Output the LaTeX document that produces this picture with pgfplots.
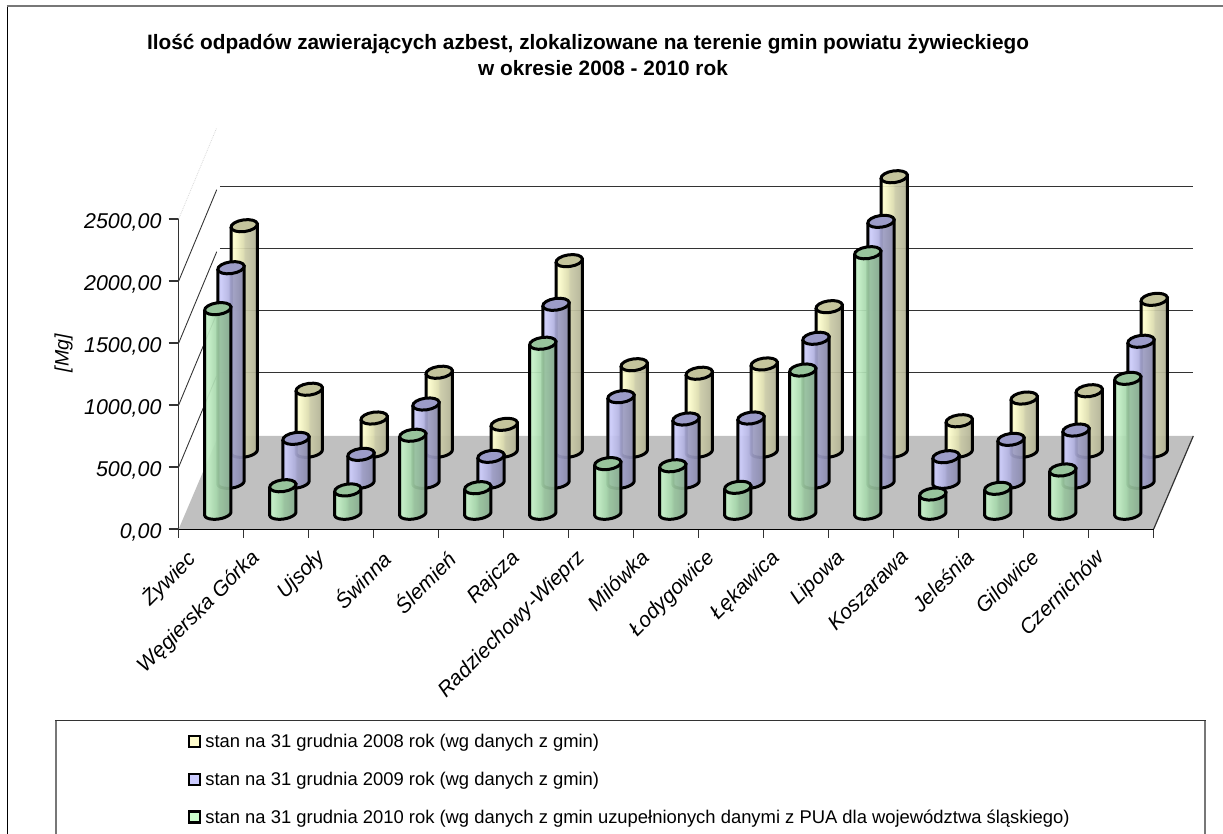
\documentclass[border=0pt]{standalone}
\usepackage{fontspec}
\setmainfont{Liberation Sans}
\usepackage{pgfplots}
\usepackage{pgfplotstable}
\pgfplotsset{compat=1.18}

% Asbestos waste per commune [Mg]: 2008 (Y), 2009 (B), 2010 (G)
\pgfplotstableread{
k  Y     B     G
0  1821  1732  1652
1  502   356   224
2  270   227   190
3  639   633   631
4  219   211   208
5  1539  1437  1373
6  700   692   402
7  631   512   385
8  706   520   211
9  1168  1163  1157
10 2216  2106  2103
11 248   208   157
12 431   348   203
13 490   423   351
14 1227  1139  1090
}\cyldata

\definecolor{gridc}{HTML}{333333}
\definecolor{framec}{HTML}{777777}
\definecolor{floorc}{HTML}{C0C0C0}
\definecolor{capG}{HTML}{98C49C}
\definecolor{capB}{HTML}{9C9CC8}
\definecolor{capY}{HTML}{C4C49C}

% Horizontal shadings giving the cylinder bodies their round look
\pgfdeclarehorizontalshading{cylG}{100bp}{rgb(0bp)=(.69,.88,.71); rgb(25bp)=(.69,.88,.71); rgb(30bp)=(.77,.94,.78); rgb(47bp)=(.65,.84,.67); rgb(52bp)=(.60,.77,.62); rgb(68bp)=(.55,.70,.58); rgb(75bp)=(.52,.66,.55); rgb(100bp)=(.52,.66,.55)}
\pgfdeclarehorizontalshading{cylB}{100bp}{rgb(0bp)=(.72,.72,.90); rgb(25bp)=(.72,.72,.90); rgb(30bp)=(.80,.80,.98); rgb(47bp)=(.69,.69,.87); rgb(52bp)=(.62,.62,.78); rgb(68bp)=(.56,.56,.70); rgb(75bp)=(.53,.53,.66); rgb(100bp)=(.53,.53,.66)}
\pgfdeclarehorizontalshading{cylY}{100bp}{rgb(0bp)=(.90,.90,.73); rgb(25bp)=(.90,.90,.73); rgb(30bp)=(.99,.99,.80); rgb(47bp)=(.87,.87,.69); rgb(52bp)=(.79,.79,.65); rgb(68bp)=(.72,.72,.60); rgb(75bp)=(.68,.68,.57); rgb(100bp)=(.68,.68,.57)}

\tikzset{cylline/.style={draw=black,line width=3pt,line join=round}}

% Cylinder bodies of one series: column, depth in the floor (0..1), shading name
\newcommand\cylbodies[3]{%
  \foreach \k in {0,...,14}{%
    \pgfplotstablegetelem{\k}{#1}\of\cyldata
    \let\val\pgfplotsretval
    \pgfmathsetmacro\cx{\k+0.5+#2*0.6092}%
    \pgfmathsetmacro\cb{#2*750}%
    \pgfmathsetmacro\ct{\cb+\val}%
    \pgfmathsetmacro\lx{\cx-13.17/65}%
    \pgfmathsetmacro\rx{\cx+13.17/65}%
    \pgfmathsetmacro\ly{\ct-1.85/0.124}%
    \pgfmathsetmacro\ry{\ct+1.85/0.124}%
    \def\pts{(\lx,\ly)}%
    \foreach \t in {180,195,...,360}{%
      \pgfmathsetmacro\px{\cx+(13.3*cos(\t)*0.99-5.6*sin(\t)*0.139)/65}%
      \pgfmathsetmacro\py{\cb+(13.3*cos(\t)*0.139+5.6*sin(\t)*0.99)/0.124}%
      \xdef\pts{\pts (\px,\py)}%
    }%
    \edef\cmd{\noexpand\addplot[forget plot,cylline,shade,shading=#3,fill opacity=0.93]
      coordinates {\pts (\rx,\ry)} -- cycle;}%
    \cmd
  }%
}
% Elliptical top faces of one series
\newcommand\cylcaps[3]{%
  \addplot[forget plot,only marks,mark=*,mark size=13.3pt,
    mark options={rotate=8,yscale=0.44,fill=#3,draw=black,line width=3pt}]
    table[x expr=\coordindex+0.5+#2*0.6092,y expr=\thisrow{#1}+#2*750]{\cyldata};
}

\begin{document}
\begin{tikzpicture}[x=1pt,y=1pt]
\path[use as bounding box] (0,0) rectangle (1223,834);
% Chart frame and legend frame, both running off the page
\draw[black,line width=1.8pt] (7.5,-5) -- (7.5,827.5);
\draw[framec,line width=2pt] (6.6,827.5) -- (1230,827.5);
\draw[framec,line width=1.8pt] (56,-5) -- (56,113.3);
\draw[framec,line width=1.8pt] (1205,-5) -- (1205,113.3);
\draw[gridc,line width=1.2pt] (55.2,113.3) -- (1205.8,113.3);
\begin{axis}[
  at={(178.7pt,305pt)},anchor=south west,
  scale only axis,width=975pt,height=310pt,
  clip=false,
  xmin=0,xmax=15,ymin=0,ymax=2500,
  axis lines=left,
  axis line style={-,gridc,line width=1.2pt},
  x axis line style={-,black,line width=1.5pt},
  tick align=outside,
  xtick={0.5,1.5,...,14.5},
  xticklabels={Żywiec,Węgierska Górka,Ujsoły,Świnna,Ślemień,Rajcza,Radziechowy-Wieprz,Milówka,Łodygowice,Łękawica,Lipowa,Koszarawa,Jeleśnia,Gilowice,Czernichów},
  minor xtick={0,1,...,15},
  major x tick style={draw=none},
  minor x tick style={gridc,line width=1.2pt},
  minor tick length=9pt,
  ytick={0,500,...,2500},
  y tick style={gridc,line width=1.2pt},
  major tick length=10pt,
  % shifts act along the rotated text direction
  xticklabel style={rotate=45,anchor=north east,font=\fontsize{21}{21}\selectfont\itshape,inner sep=1pt,xshift=-24pt,yshift=13.5pt},
  yticklabel style={font=\fontsize{21.4}{21.4}\selectfont\itshape,inner sep=2pt,xshift=-5pt,yshift=-3pt,
    /pgf/number format/.cd,fixed,fixed zerofill,precision=2,use comma,1000 sep={},assume math mode=true},
  ylabel={[Mg]},
  ylabel style={at={(axis description cs:-0.118,0.567)},anchor=center,font=\fontsize{19.5}{19.5}\selectfont\itshape},
  title={Ilość odpadów zawierających azbest, zlokalizowane na terenie gmin powiatu żywieckiego\\\hspace*{30pt}w okresie 2008 - 2010 rok},
  title style={at={(axis description cs:0.4198,1.5097)},anchor=center,align=center,font=\fontsize{20.8}{26}\selectfont\bfseries},
  legend style={draw=none,fill=none,at={(axis description cs:0.0095,-0.655)},anchor=north west,
    font=\fontsize{18.4}{18.4}\selectfont,row sep=18.8pt,inner sep=0pt,/tikz/column sep=2pt},
  legend cell align=left,
  legend image code/.code={\draw[#1,line width=2.2pt] (0pt,-5.5pt) rectangle (11pt,5.5pt);},
]
\addlegendimage{draw=black,fill=yellow!20!white}
\addlegendentry{stan na 31 grudnia 2008 rok (wg danych z gmin)}
\addlegendimage{draw=black,fill=blue!20!white}
\addlegendentry{stan na 31 grudnia 2009 rok (wg danych z gmin)}
\addlegendimage{draw=black,fill=green!20!white}
\addlegendentry{stan na 31 grudnia 2010 rok (wg danych z gmin uzupełnionych danymi z PUA dla województwa śląskiego)}

% Floor of the chart
\addplot[forget plot,fill=floorc,draw=none] coordinates {(0,0) (15,0) (15.609,750) (0.609,750)} -- cycle;
\addplot[forget plot,gridc,line width=1.2pt] coordinates {(15,0) (15.609,750)};
% Back wall lines and the matching side wall diagonals
\addplot[forget plot,gridc,line width=1.2pt] coordinates {(0.635,1260) (15.6,1260)};
\addplot[forget plot,gridc,line width=1.2pt] coordinates {(0.635,1760) (15.6,1760)};
\addplot[forget plot,gridc,line width=1.2pt] coordinates {(0.635,2260) (15.6,2260)};
\addplot[forget plot,gridc,line width=1.2pt] coordinates {(0.635,2760) (15.6,2760)};
\addplot[forget plot,gridc,line width=0.9pt] coordinates {(0,500) (0.585,1236)};
\addplot[forget plot,gridc,line width=0.9pt] coordinates {(0,1000) (0.585,1736)};
\addplot[forget plot,gridc,line width=0.9pt] coordinates {(0,1500) (0.585,2236)};
\addplot[forget plot,gridc,line width=0.9pt] coordinates {(0,2000) (0.585,2736)};
\addplot[forget plot,black!15,densely dotted,line width=0.8pt] coordinates {(0,2500) (0.585,3236)};

% Rows of cylinders, rearmost first
\cylbodies{Y}{0.8333}{cylY}
\cylcaps{Y}{0.8333}{capY}
\cylbodies{B}{0.5}{cylB}
\cylcaps{B}{0.5}{capB}
\cylbodies{G}{0.1667}{cylG}
\cylcaps{G}{0.1667}{capG}
\end{axis}
\end{tikzpicture}
\end{document}
